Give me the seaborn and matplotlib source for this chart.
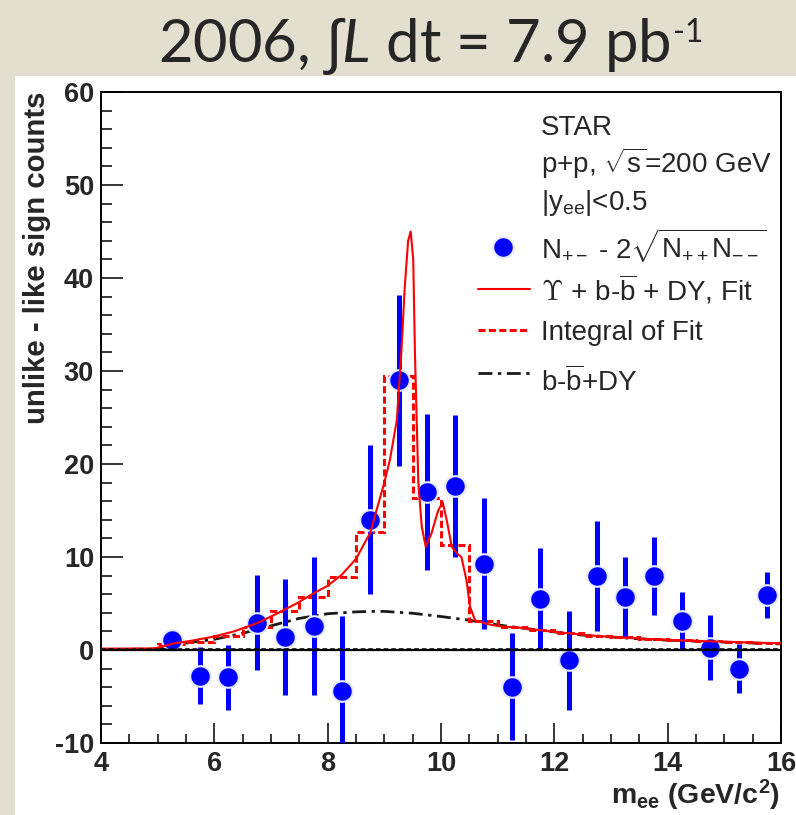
import matplotlib
matplotlib.use("Agg")
import matplotlib.pyplot as plt
from matplotlib.lines import Line2D
from matplotlib.patches import Rectangle
from matplotlib.ticker import MultipleLocator
import seaborn as sns

# Dielectron invariant mass bins (GeV/c^2) and unlike-minus-like sign yields
mass = [5.25, 5.75, 6.25, 6.75, 7.25, 7.75, 8.25, 8.75, 9.25, 9.75, 10.25,
        10.75, 11.25, 11.75, 12.25, 12.75, 13.25, 13.75, 14.25, 14.75, 15.25, 15.75]
counts = [1.1, -2.75, -2.95, 2.95, 1.4, 2.6, -4.4, 14.0, 29.0, 17.0, 17.6,
          9.3, -3.95, 5.45, -1.1, 7.95, 5.65, 7.95, 3.1, 0.25, -2.0, 5.9]
errors = [0.8, 3.1, 3.5, 5.15, 6.2, 7.4, 8.1, 8.0, 9.2, 8.4, 7.65,
          7.05, 5.75, 5.5, 5.3, 5.95, 4.3, 4.2, 3.1, 3.5, 2.65, 2.5]

# Upsilon + b-bbar + Drell-Yan fit curve
fit_mass = [4.0, 4.5, 4.9, 5.0, 5.28, 5.57, 5.98, 6.33, 6.75, 7.10, 7.45, 7.81,
            8.0, 8.25, 8.5, 8.75, 9.0, 9.10, 9.22, 9.30, 9.36, 9.42, 9.465, 9.51,
            9.54, 9.57, 9.60, 9.66, 9.73, 9.83, 9.95, 10.03, 10.10, 10.19, 10.28,
            10.36, 10.45, 10.51, 10.60, 10.81, 11.04, 11.39, 12.0, 12.57, 13.15,
            13.75, 14.35, 14.92, 15.5, 16.0]
fit_counts = [0.15, 0.15, 0.17, 0.25, 0.7, 0.97, 1.43, 1.97, 2.87, 3.9, 5.0, 6.3,
              6.9, 8.1, 9.8, 12.6, 18.0, 20.5, 24.7, 32.0, 39.0, 44.0, 45.0, 42.0,
              32.0, 25.0, 18.0, 13.3, 11.1, 12.5, 15.0, 15.9, 14.0, 11.1, 10.4,
              10.0, 7.5, 4.7, 3.2, 2.8, 2.55, 2.4, 1.95, 1.6, 1.35,
              1.15, 1.0, 0.9, 0.8, 0.72]

# b-bbar + Drell-Yan continuum
bkg_mass = [4.0, 4.9, 5.0, 5.25, 5.5, 6.0, 6.5, 7.0, 7.5, 8.0, 8.5, 8.75, 9.0,
            9.5, 10.0, 10.5, 11.0, 11.5, 12.0, 12.5, 13.0, 13.5, 14.0, 14.5,
            15.0, 15.5, 16.0]
bkg_counts = [0.05, 0.1, 0.15, 0.45, 0.75, 1.15, 1.8, 2.6, 3.4, 3.9, 4.1, 4.15,
              4.15, 3.95, 3.6, 3.2, 2.7, 2.3, 1.95, 1.6, 1.4, 1.2, 1.05, 0.95,
              0.85, 0.75, 0.65]

# Fit integrated over the 0.5 GeV/c^2 analysis bins
bin_edges = [4.0, 4.5, 5.0, 5.5, 6.0, 6.5, 7.0, 7.5, 8.0, 8.5, 9.0, 9.5, 10.0,
             10.5, 11.0, 11.5, 12.0, 12.5, 13.0, 13.5, 14.0, 14.5, 15.0, 15.5, 16.0]
fit_integral = [0.15, 0.15, 0.6, 0.9, 1.5, 2.5, 4.2, 5.7, 7.9, 12.7, 29.5, 16.3,
                11.3, 3.15, 2.5, 2.1, 1.8, 1.55, 1.35, 1.2, 1.05, 0.95, 0.85, 0.75]

sns.set_theme(style="ticks")
plt.rcParams["font.family"] = ["Liberation Sans", "DejaVu Sans"]
plt.rcParams["mathtext.fontset"] = "custom"
plt.rcParams["mathtext.rm"] = "Liberation Sans"
plt.rcParams["mathtext.it"] = "Lato:italic"
plt.rcParams["mathtext.bf"] = "Liberation Sans:bold"
plt.rcParams["axes.unicode_minus"] = False

W, H = 796, 815
BEIGE = "#e3dfcf"
BLUE = "#0000ff"
DARK = "#1a1a1a"

fig = plt.figure(figsize=(W / 100, H / 100), dpi=100, facecolor=BEIGE)
fig.add_artist(Rectangle((15 / W, 0), 1 - 15 / W, (H - 76) / H,
                         transform=fig.transFigure, facecolor="white",
                         edgecolor="none", zorder=-1))

ax = fig.add_axes([101 / W, (H - 743) / H, 680 / W, 651 / H])
ax.set_facecolor("white")

# continuum and integrated fit underneath the data
sns.lineplot(x=bkg_mass, y=bkg_counts, ax=ax, color=DARK, lw=2.0,
             linestyle=(0, (5, 2, 1.2, 2)), zorder=2)
ax.stairs(fit_integral, bin_edges, color="red", lw=2.2,
          linestyle=(0, (2.3, 1.1)), zorder=2.2)

# data with statistical errors
ax.errorbar(mass, counts, yerr=errors, fmt="none", ecolor=BLUE, elinewidth=3.6,
            capsize=0, zorder=3)
sns.scatterplot(x=mass, y=counts, ax=ax, s=220, color=BLUE, edgecolor="#e6eaff",
                linewidth=1.5, zorder=3.5)

# full fit drawn over the points
sns.lineplot(x=fit_mass, y=fit_counts, ax=ax, color="red", lw=1.5, zorder=4)

ax.axhline(0, color="black", lw=1.6, zorder=5)
ax.axhline(0.15, color="black", lw=1.1, ls=(0, (3, 2)), zorder=5)

ax.set_xlim(4, 16)
ax.set_ylim(-10, 60)
ax.xaxis.set_major_locator(MultipleLocator(2))
ax.xaxis.set_minor_locator(MultipleLocator(0.5))
ax.yaxis.set_major_locator(MultipleLocator(10))
ax.yaxis.set_minor_locator(MultipleLocator(2))
ax.tick_params(axis="x", which="major", direction="in", length=14.5, width=1.1,
               labelsize=19.5, pad=6, top=False, color="black")
ax.tick_params(axis="x", which="minor", direction="in", length=6.5, width=1.1,
               top=False, color="black")
ax.tick_params(axis="y", which="major", direction="in", length=15.5, width=1.1,
               labelsize=19.5, pad=5, right=False, color="black")
ax.tick_params(axis="y", which="minor", direction="in", length=8, width=1.1,
               right=False, color="black")
for lab in ax.get_xticklabels() + ax.get_yticklabels():
    lab.set_fontweight("bold")
for sp in ax.spines.values():
    sp.set_color("black")
    sp.set_linewidth(1.4)
ax.set_xlabel("")
ax.set_ylabel("")

fig.text(37 / W, (H - 92) / H, "unlike - like sign counts", rotation=90,
         ha="center", va="top", fontsize=21.2, fontweight="bold")
fig.text(780 / W, (H - 804) / H, r"m$_{\mathbf{ee}}$ (GeV/c$^{\mathbf{2}}$)",
         ha="right", va="baseline", fontsize=20.5, fontweight="bold")

# heading with luminosity
title = fig.text(414 / W, (H - 62) / H, r"2006, $\int L$ dt = 7.9 pb",
                 ha="center", va="baseline", fontsize=43,
                 family=["Lato", "DejaVu Sans"], fontweight="normal")
ax.annotate("-1", xy=(1.0, H - 42), xycoords=(title, "figure pixels"),
            xytext=(3, 0), textcoords="offset pixels", ha="left", va="baseline",
            fontsize=23, family=["Lato", "DejaVu Sans"], fontweight="normal",
            annotation_clip=False)

# legend block
tx = 0.647
fs = 20
ax.text(tx, 0.934, "STAR", transform=ax.transAxes, fontsize=fs, va="baseline")
ax.text(tx, 0.876, r"p+p, $\sqrt{\mathrm{s}}$=200 GeV", transform=ax.transAxes,
        fontsize=fs, va="baseline")
ax.text(tx, 0.819, r"|y$_{\mathrm{ee}}$|<0.5", transform=ax.transAxes,
        fontsize=fs, va="baseline")
ax.add_line(Line2D([0.591], [0.762], transform=ax.transAxes, marker="o",
                   markersize=14.8, color=BLUE, markeredgecolor="#e6eaff",
                   markeredgewidth=1.5, linestyle="none", zorder=6))
ax.text(tx, 0.745, r"N$_{+-}$ - 2$\sqrt{\mathrm{N}_{++}\mathrm{N}_{--}}$",
        transform=ax.transAxes, fontsize=fs, va="baseline")
ax.add_line(Line2D([0.554, 0.631], [0.697, 0.697], transform=ax.transAxes,
                   color="red", lw=1.5))
ups = ax.text(tx, 0.680, r"$\Upsilon$", transform=ax.transAxes, fontsize=fs,
              va="baseline", math_fontfamily="cm")
ax.annotate(r" + b-$\overline{\mathrm{b}}$ + DY, Fit", xy=(1.0, 0.680),
            xycoords=(ups, ax.transAxes), ha="left", va="baseline",
            fontsize=fs, annotation_clip=False)
ax.add_line(Line2D([0.554, 0.631], [0.634, 0.634], transform=ax.transAxes,
                   color="red", lw=2.2, linestyle=(0, (2.3, 1.1))))
ax.text(tx, 0.619, "Integral of Fit", transform=ax.transAxes, fontsize=fs,
        va="baseline")
ax.add_line(Line2D([0.554, 0.631], [0.568, 0.568], transform=ax.transAxes,
                   color=DARK, lw=2.0, linestyle=(0, (5, 2, 1.2, 2))))
ax.text(tx, 0.541, r"b-$\overline{\mathrm{b}}$+DY", transform=ax.transAxes,
        fontsize=fs, va="baseline")

fig.savefig("out.png", dpi=100, facecolor=BEIGE)
